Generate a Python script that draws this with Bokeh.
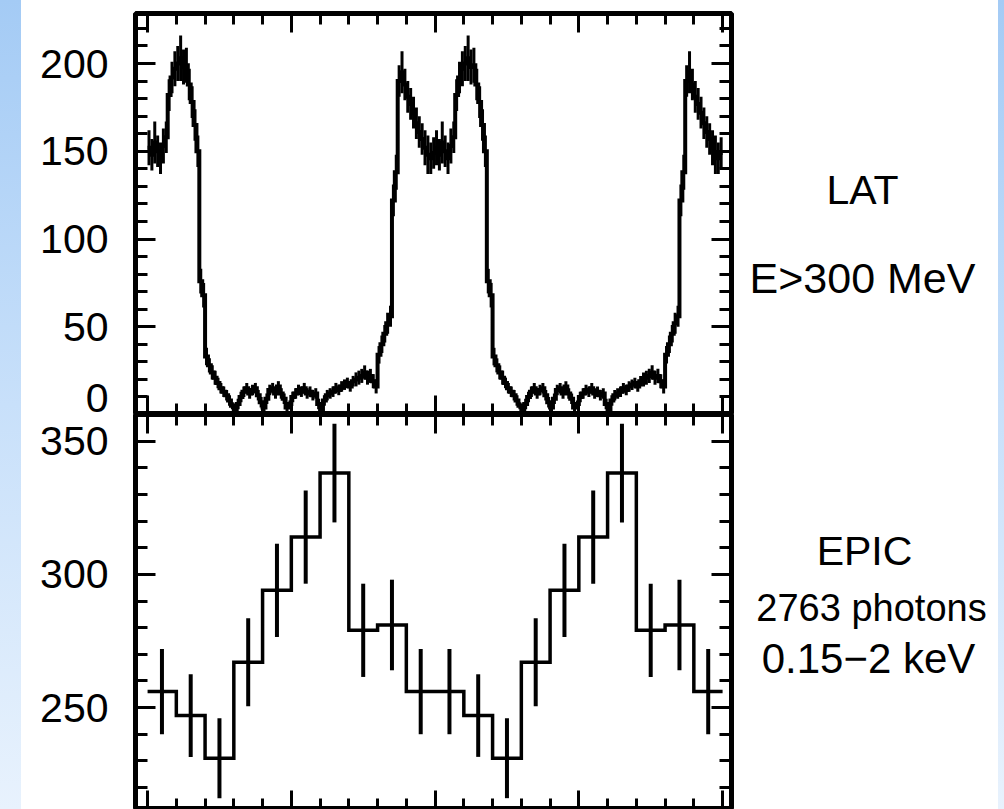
import numpy as np
from bokeh.plotting import figure
from bokeh.models import Range1d, FixedTicker, LinearAxis, Div, ColumnDataSource
from bokeh.core.properties import value
from bokeh.layouts import row, column
from bokeh.embed import file_html
from bokeh.resources import INLINE

# ---------------------------------------------------------------------------
# Folded light curves (one rotation, shown twice)
# ---------------------------------------------------------------------------
# Fermi LAT, E > 300 MeV: 100 phase bins of width 0.01
lat_bin_width = 0.01
lat_counts = [
    152, 148, 155, 150, 146, 153, 158, 182, 192, 197,
    200, 203, 198, 199, 188, 178, 165, 150, 76, 68,
    33, 28, 24, 21, 18, 15, 13, 11, 8, 5,
    3, 6, 10, 13, 15, 12, 14, 15, 11, 7,
    4, 9, 14, 15, 12, 16, 12, 9, 4, 6,
    10, 12, 14, 13, 15, 12, 13, 11, 12, 6,
    2, 8, 11, 12, 13, 15, 14, 16, 17, 18,
    16, 19, 20, 21, 22, 24, 21, 22, 19, 16,
    34, 40, 46, 52, 56, 122, 138, 190, 195, 188,
    181, 177, 172, 166, 161, 157, 152, 148, 146, 149,
]
lat_errors = [
    10, 9, 12, 9, 9, 10, 9, 9, 9, 10,
    10, 13, 10, 10, 9, 9, 9, 9, 7, 7,
    5, 4, 4, 4, 3, 3, 3, 3, 3, 2,
    2, 3, 3, 3, 3, 3, 3, 3, 3, 3,
    2, 3, 3, 3, 3, 3, 3, 3, 2, 2,
    3, 3, 3, 3, 3, 3, 3, 3, 3, 3,
    2, 3, 3, 3, 3, 3, 3, 3, 3, 3,
    3, 3, 4, 4, 4, 4, 4, 4, 4, 4,
    5, 5, 5, 6, 6, 9, 10, 9, 12, 9,
    9, 9, 9, 9, 9, 9, 10, 11, 9, 9,
]

# XMM EPIC, 0.15-2 keV: 10 phase bins of width 0.1
epic_bin_width = 0.1
epic_counts = [256, 247, 231, 267, 294, 314, 338, 279, 281, 256]
epic_errors = [16, 15.5, 15, 16.5, 17.5, 17.5, 18.5, 17.5, 17, 16]

n_cycles = 2

# Axis ticks
phase_ticks = [0, 0.5, 1, 1.5, 2]
phase_minor = [i / 10 for i in range(21)]
lat_ticks = [0, 50, 100, 150, 200]
lat_minor = list(range(0, 230, 10))
epic_ticks = [250, 300, 350]
epic_minor = list(range(210, 370, 10))

# Panel annotations
lat_notes = ["LAT", "E>300 MeV"]
epic_notes = ["EPIC", "2763 photons", "0.15\u22122 keV"]

FONT = "Liberation Sans"

# page columns (pixels): blue band | tick labels | plot | notes | blue band
W_BAND_L, W_LABELS, W_PLOT, W_NOTES, W_BAND_R = 21, 109, 606, 262, 6
H_TOP, H_BOTTOM = 414, 395
TOP_BORDER = 13


def histogram_sources(counts, errors, width):
    vals = np.tile(np.asarray(counts, dtype=float), n_cycles)
    errs = np.tile(np.asarray(errors, dtype=float), n_cycles)
    n = len(vals)
    edges = np.arange(n + 1) * width
    step = ColumnDataSource(dict(x=np.repeat(edges, 2)[1:-1], y=np.repeat(vals, 2)))
    centers = (np.arange(n) + 0.5) * width
    bars = ColumnDataSource(dict(x=centers, lo=vals - errs, hi=vals + errs))
    return step, bars


def style_axis(ax, tick_in, minor_in):
    ax.axis_line_color = None
    ax.axis_label = None
    ax.major_tick_out = 0
    ax.minor_tick_out = 0
    ax.major_tick_in = tick_in
    ax.minor_tick_in = minor_in
    ax.major_tick_line_width = 3
    ax.minor_tick_line_width = 3
    ax.major_tick_line_color = "black"
    ax.minor_tick_line_color = "black"
    ax.major_label_text_font_size = "0px"
    ax.major_label_text_color = None
    ax.major_label_standoff = 0


def bare_figure(width, height, x_range, y_range, top_border, bottom_border,
                left_border=0, right_border=0):
    f = figure(
        width=width, height=height, x_range=x_range, y_range=y_range,
        x_axis_location=None, y_axis_location=None,
        output_backend="svg", toolbar_location=None,
        min_border_left=left_border, min_border_right=right_border,
        min_border_top=top_border, min_border_bottom=bottom_border,
    )
    f.grid.visible = False
    f.outline_line_color = None
    f.background_fill_color = "white"
    f.border_fill_color = "white"
    return f


def make_panel(height, y_range, yticks, yminor, top_border, bottom_border):
    p = bare_figure(W_PLOT, height, x_range, y_range, top_border, bottom_border, 5, 5)
    p.outline_line_color = "black"
    p.outline_line_width = 5

    xt = FixedTicker(ticks=phase_ticks, minor_ticks=phase_minor)
    yt = FixedTicker(ticks=yticks, minor_ticks=yminor)
    for side in ("above", "below"):
        ax = LinearAxis(ticker=xt)
        style_axis(ax, 19, 11)
        p.add_layout(ax, side)
    for side in ("left", "right"):
        ax = LinearAxis(ticker=yt)
        style_axis(ax, 20, 12)
        p.add_layout(ax, side)
    return p


def notes_column(height, y_range, top_border, bottom_border, xs, ys, texts, sizes):
    x0 = W_BAND_L + W_LABELS + W_PLOT
    f = bare_figure(W_NOTES, height, Range1d(x0, x0 + W_NOTES),
                    y_range, top_border, bottom_border)
    src = ColumnDataSource(dict(x=xs, y=ys, text=texts, size=sizes))
    f.text(x="x", y="y", text="text", source=src, text_align="center",
           text_baseline="middle", text_font=value(FONT),
           text_font_size="size", text_color="black")
    return f


x_range = Range1d(-0.042, 2.031)

# ---------------------------------------------------------------- LAT panel
lat_range = Range1d(0, 228.5)
top = make_panel(H_TOP, lat_range, lat_ticks, lat_minor, TOP_BORDER, 0)
lat_step, lat_bars = histogram_sources(lat_counts, lat_errors, lat_bin_width)
top.segment(x0="x", y0="lo", x1="x", y1="hi", source=lat_bars,
            line_color="black", line_width=3)
top.line(x="x", y="y", source=lat_step, line_color="black", line_width=4,
         line_join="miter")

top_notes = notes_column(H_TOP, lat_range, TOP_BORDER, 0,
                         xs=[862, 862], ys=[128.2, 77.8], texts=lat_notes,
                         sizes=["41px", "43px"])

# --------------------------------------------------------------- EPIC panel
epic_range = Range1d(211.75, 360.0)
bottom = make_panel(H_BOTTOM, epic_range, epic_ticks, epic_minor, 0, 0)
epic_step, epic_bars = histogram_sources(epic_counts, epic_errors, epic_bin_width)
bottom.segment(x0="x", y0="lo", x1="x", y1="hi", source=epic_bars,
               line_color="black", line_width=4)
bottom.line(x="x", y="y", source=epic_step, line_color="black", line_width=3.5,
            line_join="miter")

bottom_notes = notes_column(H_BOTTOM, epic_range, 0, 0,
                            xs=[864, 871, 868], ys=[308.6, 287.5, 268.3],
                            texts=epic_notes, sizes=["41px", "38px", "42px"])

# ------------------------------------------- y tick labels for both panels
# One tall column beside the two panels; its two y ranges are the panel
# ranges stretched over the whole column so that the ticks line up.
lat_px = (H_TOP - TOP_BORDER) / (lat_range.end - lat_range.start)
epic_px = H_BOTTOM / (epic_range.end - epic_range.start)
label_lat = Range1d(lat_range.start - H_BOTTOM / lat_px, lat_range.end)
label_epic = Range1d(epic_range.start, epic_range.end + (H_TOP - TOP_BORDER) / epic_px)

labels = bare_figure(W_LABELS, H_TOP + H_BOTTOM, Range1d(W_BAND_L, W_BAND_L + W_LABELS),
                     label_lat, TOP_BORDER, 0)
labels.extra_y_ranges = {"epic": label_epic}

# the 0 label on the panel boundary is lifted by half its height
lat_label_y = [t + (16.5 / lat_px if t == 0 else 0) for t in lat_ticks]
labels.text(x=[108] * len(lat_ticks), y=lat_label_y, text=[str(t) for t in lat_ticks],
            text_align="right", text_baseline="middle",
            text_font=value(FONT), text_font_size="41px", text_color="black")
labels.text(x=[108] * len(epic_ticks), y=epic_ticks, text=[str(t) for t in epic_ticks],
            y_range_name="epic", text_align="right", text_baseline="middle",
            text_font=value(FONT), text_font_size="41px", text_color="black")

# ------------------------------------------------------------- page layout
band = "linear-gradient(to bottom, #a4cbf5 0%, #c8e0fa 50%, #e8f2fd 100%)"
left_band = Div(width=W_BAND_L, height=H_TOP + H_BOTTOM, margin=0,
                styles={"background": band})
right_band = Div(width=W_BAND_R, height=H_TOP + H_BOTTOM, margin=0,
                 styles={"background": band})

panels = column(
    row(top, top_notes, spacing=0),
    row(bottom, bottom_notes, spacing=0),
    spacing=0,
)
page = row(left_band, labels, panels, right_band, spacing=0)

open("out.html", "w").write(file_html(page, INLINE, title="Light curves"))
